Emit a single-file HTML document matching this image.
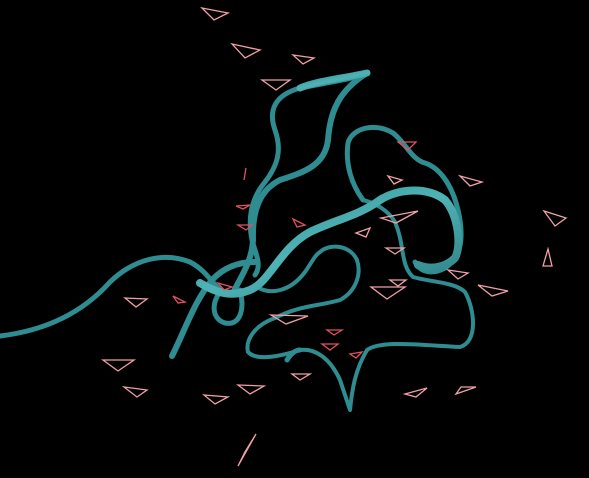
<!DOCTYPE html>
<html><head><meta charset="utf-8"><style>
html,body{margin:0;padding:0;background:#000;width:589px;height:478px;overflow:hidden}
svg{display:block}
</style></head><body>
<svg width="589" height="478" viewBox="0 0 589 478">
<defs>
<linearGradient id="rib" x1="0" y1="0" x2="1" y2="1">
<stop offset="0" stop-color="#2f8a8e"/><stop offset="0.5" stop-color="#4fb3b6"/><stop offset="1" stop-color="#2a7c80"/>
</linearGradient>
</defs>
<rect width="589" height="478" fill="#000"/>
<g fill="none" stroke="#2f8d91" stroke-linecap="round" stroke-linejoin="round">
<path stroke-width="5" d="M0,336 C50,330 85,310 110,282 C135,258 165,252 190,262 C205,270 210,280 220,290"/>
<path stroke-width="6" d="M172,356 C185,330 195,300 212,280 C225,266 240,262 255,262"/>
<path stroke-width="5" d="M367,73 C350,80 330,82 300,88 C275,95 268,110 275,130 C282,150 278,165 265,182 C250,200 248,220 252,240 C256,255 262,265 255,275"/>
<path stroke-width="6" d="M367,73 C340,90 330,110 328,140 C325,165 305,172 280,180 C260,190 252,210 253,240 C252,262 240,278 233,293"/>
<path stroke-width="5" d="M222,290 C212,300 210,318 225,323 C240,326 245,310 240,290"/>
<path stroke-width="4" d="M257,287 C270,295 290,292 305,272 C312,262 315,255 320,252 C330,243 350,245 357,260 C362,275 355,292 340,300 C320,306 300,305 275,318 C255,325 245,340 248,352 C255,360 275,358 300,350 C315,348 330,358 340,380 C345,395 350,410 350,410 C352,390 355,370 367,350 C380,340 420,345 460,347 C478,342 475,310 465,292 C455,282 430,282 413,277 C400,265 405,245 395,222 C388,210 375,203 363,200"/>
<path stroke-width="5" d="M287,360 C292,352 296,350 300,350"/>
<path stroke-width="5" d="M363,200 C352,185 345,165 348,143 C352,128 375,122 393,133 C405,142 412,160 425,163 C440,168 452,185 458,210 C465,240 460,258 445,268 C432,275 420,272 415,262"/>
<path stroke="url(#rib)" stroke-width="8" d="M200,283 C215,292 230,298 250,290 C270,282 280,248 310,232 C335,220 360,215 380,200 C395,190 425,185 445,200 C458,215 462,245 455,258 C445,268 430,270 418,265"/>
<path stroke="url(#rib)" stroke-width="7" d="M300,88 C320,80 345,78 367,73"/>
</g>
<g fill="none" stroke-width="1.3">
<path stroke="#f0a0a8" d="M202,8 L228,13 L214,20 Z"/>
<path stroke="#f0a0a8" d="M232,44 L260,50 L245,58 Z"/>
<path stroke="#f0a0a8" d="M293,55 L314,58 L303,64 Z"/>
<path stroke="#f0a0a8" d="M262,80 L290,80 L276,90 Z"/>
<path stroke="#e05060" d="M398,142 L416,142 L408,150 Z"/>
<path stroke="#f0a0a8" d="M460,176 L482,182 L470,186 Z"/>
<path stroke="#f0a0a8" d="M388,176 L402,180 L394,184 Z"/>
<path stroke="#f0a0a8" d="M544,211 L566,218 L555,226 Z"/>
<path stroke="#f0a0a8" d="M548,249 L552,266 L543,266 Z"/>
<path stroke="#f0a0a8" d="M381,218 L418,211 L396,223 Z"/>
<path stroke="#f0a0a8" d="M356,233 L370,228 L366,237 Z"/>
<path stroke="#f0a0a8" d="M386,248 L404,248 L395,254 Z"/>
<path stroke="#e05060" d="M293,219 L305,225 L297,227 Z"/>
<path stroke="#e05060" d="M238,225 L252,225 L246,230 Z"/>
<path stroke="#e05060" d="M236,206 L250,205 L243,209 Z"/>
<path stroke="#e05060" d="M246,168 L244,180"/>
<path stroke="#f0a0a8" d="M448,270 L468,273 L458,279 Z"/>
<path stroke="#f0a0a8" d="M478,285 L508,291 L492,296 Z"/>
<path stroke="#f0a0a8" d="M371,287 L405,287 L387,299 Z"/>
<path stroke="#f0a0a8" d="M390,280 L406,280 L398,286 Z"/>
<path stroke="#f0a0a8" d="M125,298 L147,299 L136,307 Z"/>
<path stroke="#e05060" d="M173,296 L185,302 L178,303 Z"/>
<path stroke="#e05060" d="M218,283 L232,287 L224,290 Z"/>
<path stroke="#f0a0a8" d="M271,315 L308,316 L286,324 Z"/>
<path stroke="#e05060" d="M327,330 L342,330 L334,335 Z"/>
<path stroke="#e05060" d="M322,344 L338,344 L330,350 Z"/>
<path stroke="#e05060" d="M350,354 L362,352 L356,358 Z"/>
<path stroke="#f0a0a8" d="M103,360 L134,360 L118,371 Z"/>
<path stroke="#f0a0a8" d="M124,387 L147,390 L137,397 Z"/>
<path stroke="#f0a0a8" d="M204,395 L228,397 L215,404 Z"/>
<path stroke="#f0a0a8" d="M238,385 L264,386 L250,394 Z"/>
<path stroke="#f0a0a8" d="M292,374 L310,374 L300,380 Z"/>
<path stroke="#f0a0a8" d="M405,394 L427,388 L416,397 Z"/>
<path stroke="#f0a0a8" d="M456,394 L476,387 L461,387 Z"/>
<path stroke="#f0a0a8" d="M238,466 L256,434 L245,452 Z"/>
</g>
</svg>
</body></html>
